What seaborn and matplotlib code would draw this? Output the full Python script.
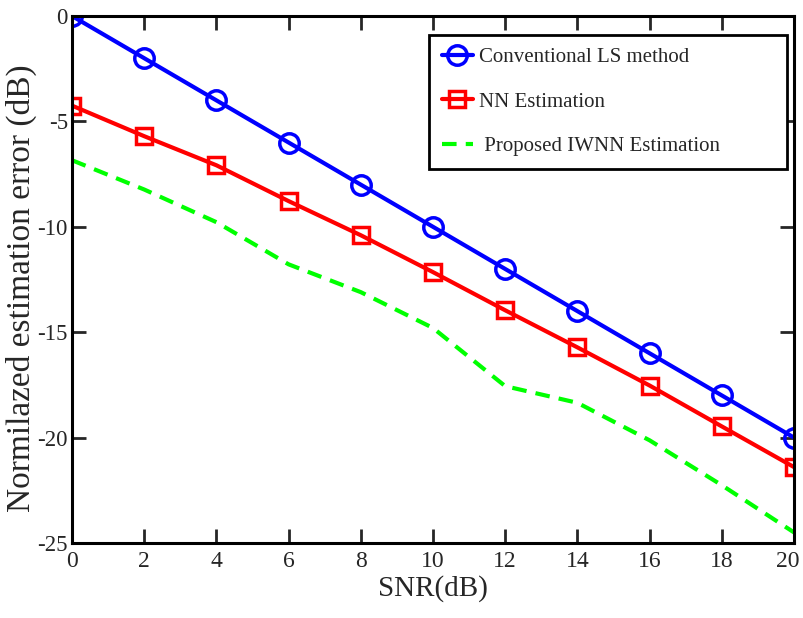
import numpy as np
import pandas as pd
import matplotlib
matplotlib.use("Agg")
import matplotlib.pyplot as plt
import matplotlib.transforms as mtransforms
import seaborn as sns

# valores
snr_db = [0, 2, 4, 6, 8, 10, 12, 14, 16, 18, 20]
ls_error = [0, -2, -4, -6, -8, -10, -12, -14, -16, -18, -20]
nn_error = [-4.25, -5.7, -7.08, -8.78, -10.4, -12.15, -13.96, -15.72, -17.53, -19.47, -21.4]
iwnn_error = [-6.84, -8.23, -9.78, -11.78, -13.1, -14.8, -17.56, -18.35, -20.13, -22.26, -24.5]

nombres = ["Conventional LS method", "NN Estimation", " Proposed IWNN Estimation"]
x_ticks = [0, 2, 4, 6, 8, 10, 12, 14, 16, 18, 20]
y_ticks = [-25, -20, -15, -10, -5, 0]

sns.set_style("ticks")
plt.rcParams["font.family"] = ["Liberation Serif", "DejaVu Serif"]
plt.rcParams["axes.unicode_minus"] = False

fig = plt.figure(figsize=(8.04, 6.18), dpi=100)
ax = fig.add_axes([0.0896, 0.1214, 0.898, 0.8526])

# una llamada por serie (seaborn no mezcla marcadores rellenos y de linea)
sns.lineplot(x=snr_db, y=ls_error, color="#0000ff", linewidth=3,
             marker="o", markersize=14, markeredgewidth=2.5,
             markerfacecolor="none", markeredgecolor="#0000ff",
             label=nombres[0], ax=ax)
sns.lineplot(x=snr_db, y=nn_error, color="#ff0000", linewidth=3,
             marker="s", markersize=11, markeredgewidth=2.5,
             markerfacecolor="none", markeredgecolor="#ff0000",
             label=nombres[1], ax=ax)
sns.lineplot(x=snr_db, y=iwnn_error, color="#00ff00", linewidth=3,
             dashes=False, label=nombres[2], ax=ax)
ax.get_lines()[-1].set_dashes((3.5, 2.2))

ax.set_xlim(0, 20)
ax.set_ylim(-25, 0)
ax.set_xticks(x_ticks)
ax.set_yticks(y_ticks)
ax.tick_params(direction="in", length=10, width=2, top=True, right=True)
ax.tick_params(axis="y", labelsize=16.5, pad=3)
ax.tick_params(axis="x", labelsize=17, pad=6)
for s in ax.spines.values():
    s.set_linewidth(2.2)
    s.set_color("black")

# la ultima etiqueta del eje x un poco a la izquierda para que no se corte
ultimo = ax.get_xticklabels()[-1]
ultimo.set_transform(ultimo.get_transform() +
                     mtransforms.ScaledTranslation(-6 / 100, 0, fig.dpi_scale_trans))

ax.set_xlabel("SNR(dB)", fontsize=21, labelpad=2)
ax.set_ylabel("Normilazed estimation error (dB)", fontsize=24)
ax.yaxis.set_label_coords(-0.048, 0.484)

leg = ax.legend(loc="upper left", bbox_to_anchor=(0.4945, 0.694, 0.496, 0.27),
                mode="expand", borderaxespad=0,
                fontsize=15, handlelength=1.5, handletextpad=0.3,
                frameon=True, fancybox=False, edgecolor="black",
                labelspacing=1.2, borderpad=0.6)
leg.get_frame().set_linewidth(2)
leg.get_frame().set_alpha(1)
for h in leg.get_lines():
    h.set_linewidth(3)

fig.savefig("out.png", dpi=100)
